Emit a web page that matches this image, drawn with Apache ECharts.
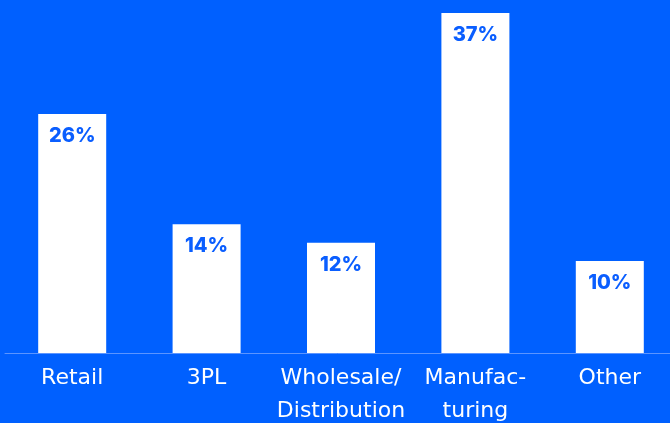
<!DOCTYPE html>
<html>
<head>
<meta charset="utf-8">
<script src="https://cdn.jsdelivr.net/npm/echarts@6/dist/echarts.min.js"></script>
<style>
  html, body { margin: 0; padding: 0; background: #0060FF; }
  #chart { width: 670px; height: 423px; }
</style>
</head>
<body>
<div id="chart"></div>
<script>
// Share of respondents by industry segment
const categories = ['Retail', '3PL', 'Wholesale/\nDistribution', 'Manufac-\nturing', 'Other'];
const shares = [26, 14, 12, 37, 10];

const chart = echarts.init(document.getElementById('chart'), null, { renderer: 'canvas' });

chart.setOption({
  backgroundColor: '#0060FF',
  animation: false,
  grid: {
    left: 5, top: 13, width: 672, height: 340,
    containLabel: false,
    outerBoundsMode: 'none'
  },
  xAxis: {
    type: 'category',
    data: categories,
    axisLine: { show: true, lineStyle: { color: '#5C95FF', width: 1 } },
    axisTick: { show: false },
    axisLabel: {
      color: '#FFFFFF',
      fontFamily: 'DejaVu Sans',
      fontSize: 22,
      lineHeight: 33,
      margin: 9,
      interval: 0
    }
  },
  yAxis: {
    type: 'value',
    min: 0,
    max: 37,
    show: false,
    splitLine: { show: false }
  },
  series: [{
    type: 'bar',
    data: shares,
    barWidth: 68,
    itemStyle: { color: '#FFFFFF' },
    label: {
      show: true,
      position: 'insideTop',
      distance: 12,
      formatter: '{c}%',
      color: '#0A5EFF',
      fontFamily: 'Inter',
      fontWeight: 800,
      fontSize: 20
    }
  }]
});
</script>
</body>
</html>
